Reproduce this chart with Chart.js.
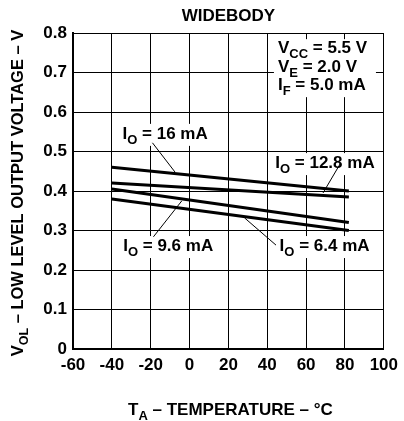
<!DOCTYPE html>
<html>
<head>
<meta charset="utf-8">
<script src="https://cdn.jsdelivr.net/npm/chart.js@4/dist/chart.umd.min.js"></script>
<style>
  html, body { margin: 0; padding: 0; background: #fff; }
  #wrap { width: 404px; height: 421px; }
</style>
</head>
<body>
<div id="wrap"><canvas id="chart" width="404" height="421"></canvas></div>
<script>
// data
const temps = [-40, 82];
const io16 = [0.46, 0.40];
const io128 = [0.42, 0.385];
const io96 = [0.405, 0.32];
const io64 = [0.38, 0.30];
const xTicks = [-60, -40, -20, 0, 20, 40, 60, 80, 100];
const yTicks = [0, 0.1, 0.2, 0.3, 0.4, 0.5, 0.6, 0.7, 0.8];

const FONT = 'Liberation Sans, Arial, sans-serif';
const SIZE = 17, SUB = 13;

// labels on the plot (data coords), with leader lines
const notes = [
  { parts: [['I', 0], ['O', 1], [' = 16 mA', 0]], x: -12.6, y: 0.532, from: [-19.1, 0.522], to: [-7.5, 0.448] },
  { parts: [['I', 0], ['O', 1], [' = 12.8 mA', 0]], x: 69.7, y: 0.458, from: [77.8, 0.471], to: [68.7, 0.395] },
  { parts: [['I', 0], ['O', 1], [' = 9.6 mA', 0]], x: -11, y: 0.248, from: [-18.6, 0.284], to: [-4, 0.375] },
  { parts: [['I', 0], ['O', 1], [' = 6.4 mA', 0]], x: 69.5, y: 0.248, from: [44.5, 0.263], to: [28.3, 0.332] }
];
const conds = [
  [['V', 0], ['CC', 1], [' = 5.5 V', 0]],
  [['V', 0], ['E', 1], [' = 2.0 V', 0]],
  [['I', 0], ['F', 1], [' = 5.0 mA', 0]]
];

function partsWidth(ctx, parts, size, subSize) {
  let w = 0;
  parts.forEach(p => {
    ctx.font = 'bold ' + (p[1] ? subSize : size) + 'px ' + FONT;
    w += ctx.measureText(p[0]).width;
  });
  return w;
}

// draws text with subscripts, x = left edge, y = baseline
function drawParts(ctx, parts, x, y, size, subSize) {
  ctx.textBaseline = 'alphabetic';
  ctx.textAlign = 'left';
  parts.forEach(p => {
    ctx.font = 'bold ' + (p[1] ? subSize : size) + 'px ' + FONT;
    ctx.fillText(p[0], x, y + (p[1] ? 5 : 0));
    x += ctx.measureText(p[0]).width;
  });
}

const textPlugin = {
  id: 'textPlugin',
  afterDraw(chart) {
    const ctx = chart.ctx;
    const xs = chart.scales.x, ys = chart.scales.y;
    const area = chart.chartArea;
    ctx.save();
    ctx.fillStyle = '#000';
    ctx.strokeStyle = '#000';

    // labels with white background and leader lines
    notes.forEach(n => {
      const w = partsWidth(ctx, n.parts, SIZE, SUB);
      const cx = xs.getPixelForValue(n.x);
      const by = ys.getPixelForValue(n.y);
      ctx.fillStyle = '#fff';
      ctx.fillRect(cx - w / 2 - 2, by - 15, w + 4, 22);
      ctx.fillStyle = '#000';
      drawParts(ctx, n.parts, cx - w / 2, by, SIZE, SUB);
      ctx.lineWidth = 1;
      ctx.beginPath();
      ctx.moveTo(xs.getPixelForValue(n.from[0]), ys.getPixelForValue(n.from[1]));
      ctx.lineTo(xs.getPixelForValue(n.to[0]), ys.getPixelForValue(n.to[1]));
      ctx.stroke();
    });

    // test conditions box
    const left = xs.getPixelForValue(45.5);
    const top = ys.getPixelForValue(0.749);
    ctx.fillStyle = '#fff';
    ctx.fillRect(left - 4, top - 14, 102, 58);
    ctx.fillStyle = '#000';
    conds.forEach((c, i) => drawParts(ctx, c, left, top + i * 18.5, SIZE, SUB));

    // title
    ctx.font = 'bold ' + SIZE + 'px ' + FONT;
    ctx.textAlign = 'center';
    ctx.textBaseline = 'middle';
    ctx.fillText('WIDEBODY', (area.left + area.right) / 2, 16);

    // x axis title
    const xt = [['T', 0], ['A', 1], [' \u2013 TEMPERATURE \u2013 \u00b0C', 0]];
    const xw = partsWidth(ctx, xt, SIZE, SUB);
    drawParts(ctx, xt, (area.left + area.right) / 2 - xw / 2 + 2, 415, SIZE, SUB);

    // y axis title, rotated
    const yt = [['V', 0], ['OL', 1], [' \u2013 LOW LEVEL OUTPUT VOLTAGE \u2013 V', 0]];
    const yw = partsWidth(ctx, yt, 16.5, 12.5);
    ctx.translate(23, 193);
    ctx.rotate(-Math.PI / 2);
    drawParts(ctx, yt, -yw / 2, 0, 16.5, 12.5);
    ctx.restore();
  }
};

function lineSet(vals) {
  return {
    data: temps.map((t, i) => ({ x: t, y: vals[i] })),
    borderColor: '#000',
    borderWidth: 3,
    pointRadius: 0,
    fill: false,
    tension: 0
  };
}

new Chart(document.getElementById('chart'), {
  type: 'line',
  data: { datasets: [lineSet(io16), lineSet(io128), lineSet(io96), lineSet(io64)] },
  options: {
    responsive: false,
    animation: false,
    layout: { padding: { left: 0, right: 14, top: 33, bottom: 0 } },
    plugins: { legend: { display: false }, tooltip: { enabled: false } },
    scales: {
      x: {
        type: 'linear',
        min: -60, max: 100,
        afterFit(s) { s.height = 72; },
        afterBuildTicks(s) { s.ticks = xTicks.map(v => ({ value: v })); },
        grid: { color: '#000', lineWidth: 1, drawTicks: false },
        border: { color: '#000', width: 2 },
        ticks: { color: '#000', font: { family: FONT, size: SIZE, weight: 'bold' }, padding: 6, maxRotation: 0 }
      },
      y: {
        min: 0, max: 0.8,
        afterFit(s) { s.width = 73; },
        afterBuildTicks(s) { s.ticks = yTicks.map(v => ({ value: v })); },
        grid: { color: '#000', lineWidth: 1, drawTicks: false },
        border: { color: '#000', width: 2 },
        ticks: { color: '#000', font: { family: FONT, size: SIZE, weight: 'bold' }, padding: 6,
          callback: v => v === 0 ? '0' : v.toFixed(1) }
      }
    }
  },
  plugins: [textPlugin]
});
</script>
</body>
</html>
